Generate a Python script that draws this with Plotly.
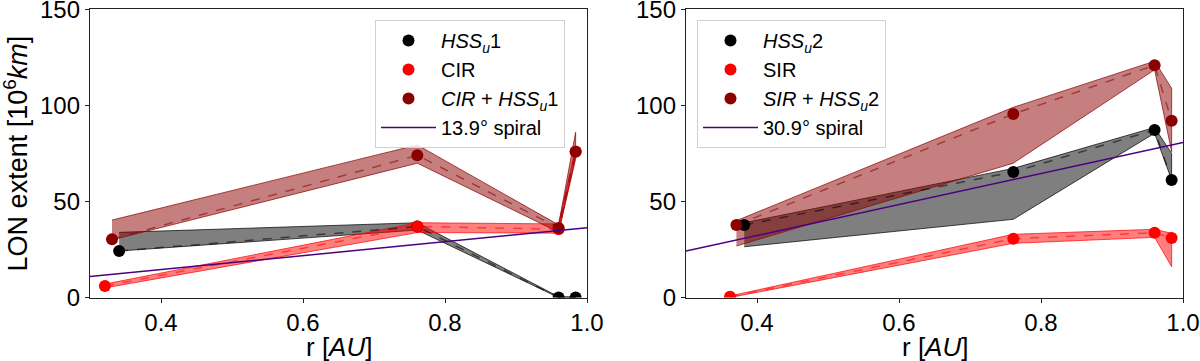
import plotly.graph_objects as go

# ---------------- data ----------------
# Left panel
r_hss1 = [0.341, 0.761, 0.96, 0.984]
lon_hss1 = [24.2, 36.9, 0.0, 0.0]
lo_hss1 = [24.2, 35.1, 0.0, 0.0]
hi_hss1 = [33.9, 38.9, 0.4, 0.4]

r_cir = [0.321, 0.761, 0.96, 0.984]
lon_cir = [6.0, 37.0, 35.5, 76.0]
lo_cir = [5.0, 33.8, 33.5, 74.0]
hi_cir = [7.0, 38.9, 38.3, 78.0]

r_comb1 = [0.331, 0.761, 0.96, 0.984]
lon_comb1 = [30.3, 74.0, 36.2, 75.9]
lo_comb1 = [30.0, 69.9, 34.0, 72.0]
hi_comb1 = [40.3, 79.4, 37.8, 86.0]

# Right panel
r_hss2 = [0.382, 0.761, 0.96, 0.984]
lon_hss2 = [37.7, 65.3, 87.2, 61.2]
lo_hss2 = [26.4, 40.7, 85.5, 61.2]
hi_hss2 = [38.9, 67.2, 88.5, 75.0]

r_sir = [0.362, 0.761, 0.96, 0.984]
lon_sir = [0.4, 30.6, 33.7, 31.0]
lo_sir = [0.0, 28.2, 31.3, 16.0]
hi_sir = [0.8, 32.9, 35.5, 33.4]

r_comb2 = [0.371, 0.761, 0.96, 0.984]
lon_comb2 = [37.7, 95.5, 120.9, 92.0]
lo_comb2 = [26.8, 69.9, 118.5, 75.9]
hi_comb2 = [40.0, 99.0, 123.0, 108.9]

# Spiral reference lines
r_spiral = [0.3, 1.0]
lon_spiral1 = [10.9, 36.3]
lon_spiral2 = [24.2, 80.7]

# Labels
names1 = ["<i>HSS<sub>u</sub></i>1", "CIR", "<i>CIR</i> + <i>HSS<sub>u</sub></i>1", "13.9° spiral"]
names2 = ["<i>HSS<sub>u</sub></i>2", "SIR", "<i>SIR</i> + <i>HSS<sub>u</sub></i>2", "30.9° spiral"]
y_title = "LON extent [10<sup>6</sup><i>km</i>]"
x_title = "r [<i>AU</i>]"
y_ticks = [0, 50, 100, 150]
x_ticks = [0.4, 0.6, 0.8, 1.0]

# ---------------- styling ----------------
FONT = "Liberation Sans, Arial, sans-serif"
C_BLACK = (0, 0, 0)
C_RED = (255, 0, 0)
C_DARK = (139, 0, 0)
C_SPIRAL = "#4B0082"
W, H = 1200, 361


def rgba(c, a):
    return f"rgba({c[0]},{c[1]},{c[2]},{a})"


fig = go.Figure()


def add_panel(xa, ya, series, spiral_y, spiral_name, legend):
    for r, lon, lo, hi, col, name in series:
        fig.add_trace(go.Scatter(
            x=list(r) + list(r)[::-1], y=list(hi) + list(lo)[::-1],
            fill="toself", fillcolor=rgba(col, 0.5),
            line=dict(color=rgba(col, 0.7), width=1),
            mode="lines", showlegend=False, hoverinfo="skip",
            xaxis=xa, yaxis=ya))
    for r, lon, lo, hi, col, name in series:
        fig.add_trace(go.Scatter(
            x=r, y=lon, mode="lines",
            line=dict(color=rgba(col, 0.55), width=1.5, dash="dash"),
            showlegend=False, hoverinfo="skip", xaxis=xa, yaxis=ya))
    spiral_trace = go.Scatter(
        x=r_spiral, y=spiral_y, mode="lines", name=spiral_name,
        line=dict(color=C_SPIRAL, width=1.5), legend=legend,
        xaxis=xa, yaxis=ya)
    for r, lon, lo, hi, col, name in series:
        fig.add_trace(go.Scatter(
            x=r, y=lon, mode="markers", name=name,
            marker=dict(color=rgba(col, 1), size=12),
            legend=legend, xaxis=xa, yaxis=ya))
    fig.add_trace(spiral_trace)


add_panel("x", "y", [
    (r_hss1, lon_hss1, lo_hss1, hi_hss1, C_BLACK, names1[0]),
    (r_cir, lon_cir, lo_cir, hi_cir, C_RED, names1[1]),
    (r_comb1, lon_comb1, lo_comb1, hi_comb1, C_DARK, names1[2]),
], lon_spiral1, names1[3], "legend")

add_panel("x2", "y2", [
    (r_hss2, lon_hss2, lo_hss2, hi_hss2, C_BLACK, names2[0]),
    (r_sir, lon_sir, lo_sir, hi_sir, C_RED, names2[1]),
    (r_comb2, lon_comb2, lo_comb2, hi_comb2, C_DARK, names2[2]),
], lon_spiral2, names2[3], "legend2")

axis_common = dict(
    showline=True, mirror=True, linecolor="#222", linewidth=1.3,
    ticks="outside", ticklen=4, tickwidth=1.2, tickcolor="#222",
    showgrid=False, zeroline=False, ticklabeloverflow="allow",
    automargin=False,
    tickfont=dict(family=FONT, size=24, color="black"),
)

xcommon = dict(axis_common, range=[0.3, 1.0], tickvals=x_ticks,
               ticktext=[f"{v:.1f}" for v in x_ticks])
ycommon = dict(axis_common, range=[0, 150], tickvals=y_ticks,
               ticktext=[str(v) for v in y_ticks])

legend_common = dict(
    font=dict(family=FONT, size=20, color="black"),
    bgcolor="rgba(255,255,255,0.85)", bordercolor="#d0d0d0", borderwidth=1,
    xanchor="left", yanchor="top", itemwidth=55, tracegroupgap=0,
)

xd1 = [90 / W, 587 / W]
xd2 = [686 / W, 1183 / W]
yd = [(H - 297.5) / H, (H - 9.3) / H]

fig.update_layout(
    width=W, height=H,
    margin=dict(l=0, r=0, t=0, b=0, pad=0, autoexpand=False),
    paper_bgcolor="white", plot_bgcolor="white",
    font=dict(family=FONT, color="black"),
    xaxis=dict(xcommon, domain=xd1, anchor="y"),
    yaxis=dict(ycommon, domain=yd, anchor="x"),
    xaxis2=dict(xcommon, domain=xd2, anchor="y2"),
    yaxis2=dict(ycommon, domain=yd, anchor="x2"),
    legend=dict(legend_common, x=375 / W, y=(H - 20) / H),
    legend2=dict(legend_common, x=697 / W, y=(H - 20) / H),
    showlegend=True,
)

title_font = dict(family=FONT, size=26, color="black")
for xd in (xd1, xd2):
    fig.add_annotation(text=x_title, xref="paper", yref="paper",
                       x=(xd[0] + xd[1]) / 2, y=(H - 347) / H,
                       xanchor="center", yanchor="middle", showarrow=False,
                       font=title_font)
fig.add_annotation(text=y_title, xref="paper", yref="paper",
                   x=16 / W, y=(yd[0] + yd[1]) / 2, textangle=-90,
                   xanchor="center", yanchor="middle", showarrow=False,
                   font=dict(title_font, size=27))

fig.write_html("out.html",
               config={"displayModeBar": False},
               post_script="document.body.style.margin='0';document.body.style.overflow='hidden';")
